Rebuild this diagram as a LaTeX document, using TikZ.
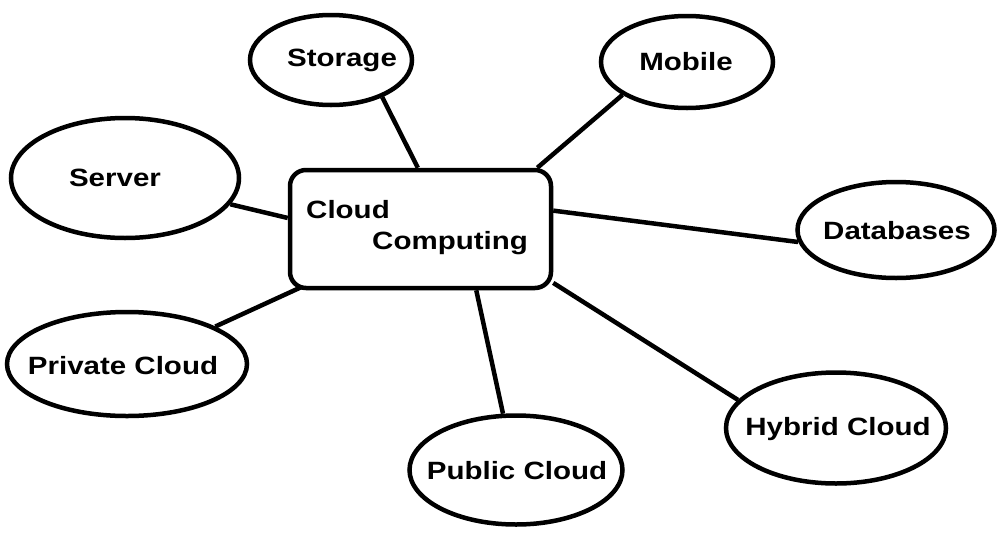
\documentclass[tikz,border=0pt]{standalone}
\usepackage{fontspec}
\newfontfamily\lblfont{Liberation Sans Bold}[FakeStretch=1.18]
\usetikzlibrary{shapes.geometric,calc}
\tikzset{
  topic/.style={ellipse, draw, line width=4.5pt, inner sep=0pt},
  topictext/.style={inner sep=0pt, font=\lblfont\fontsize{25}{30}\selectfont},
  hub/.style={rectangle, rounded corners=16pt, draw, line width=4.5pt, inner sep=0pt,
    minimum width=261pt, minimum height=118pt},
  hubtext/.style={anchor=west, inner sep=0pt, font=\lblfont\fontsize{25}{30}\selectfont},
  link/.style={line width=4.5pt}
}
\begin{document}
\begin{tikzpicture}[x=1pt,y=-1pt]
\useasboundingbox (0,0) rectangle (998,536);

% central box
\node[hub] (cc) at (420.5,229) {};
\node[hubtext] (cloud) at (306,210) {Cloud};
\node[hubtext] (computing) at (372,243) {Computing};

% surrounding topics: outlines
\node[topic, minimum width=162pt, minimum height=90pt] (storage) at (331,60) {};
\node[topic, minimum width=172pt, minimum height=92pt] (mobile) at (687,62) {};
\node[topic, minimum width=228pt, minimum height=120pt] (server) at (125,178) {};
\node[topic, minimum width=197pt, minimum height=96pt] (db) at (896,230) {};
\node[topic, minimum width=240pt, minimum height=104pt] (private) at (127,364) {};
\node[topic, minimum width=213pt, minimum height=109pt] (public) at (516,470) {};
\node[topic, minimum width=220pt, minimum height=111pt] (hybrid) at (836,428) {};

% surrounding topics: labels
\node[topictext] (storage-t) at (342,60) {Storage};
\node[topictext] (mobile-t) at (686,62) {Mobile};
\node[topictext] (server-t) at (115,178) {Server};
\node[topictext] (db-t) at (897,231) {Databases};
\node[topictext] (private-t) at (123,366) {Private Cloud};
\node[topictext] (public-t) at (517,471) {Public Cloud};
\node[topictext] (hybrid-t) at (838,429) {Hybrid Cloud};

% connectors
\draw[link] (storage.-36) -- ($(cc.north west)!0.49!(cc.north east)$);
\draw[link] (mobile.207) -- ($(cc.north west)!0.94!(cc.north east)$);
\draw[link] (server.-14) -- ($(cc.north west)!0.41!(cc.south west)$);
\draw[link] ($(cc.north east)!0.35!(cc.south east)$) -- (db.187);
\draw[link] (private.23) -- ($(cc.south west)!0.05!(cc.south east)+(0,-3)$);
\draw[link] ($(cc.south west)!0.71!(cc.south east)$) -- (public.103);
\draw[link] ($(cc.north east)!0.94!(cc.south east)$) -- (hybrid.164);
\end{tikzpicture}
\end{document}
